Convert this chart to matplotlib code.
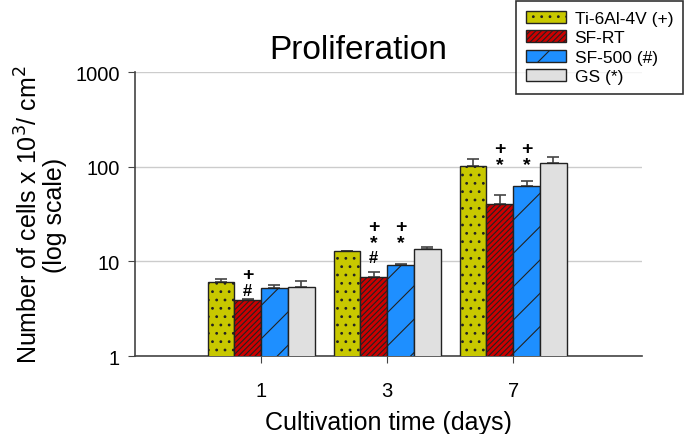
import matplotlib.pyplot as plt
import numpy as np
from matplotlib.patches import Patch

plt.rcParams['font.family'] = ['Liberation Sans', 'DejaVu Sans']
plt.rcParams['hatch.linewidth'] = 0.8

days = ["1", "3", "7"]
groups = ["Ti-6Al-4V (+)", "SF-RT", "SF-500 (#)", "GS (*)"]
ti = [6.1, 12.8, 102]
sf_rt = [3.9, 6.8, 40]
sf_500 = [5.2, 9.2, 62]
gs = [5.35, 13.6, 109]
ti_err = [0.5, 0.2, 18]
sf_rt_err = [0.1, 0.9, 10]
sf_500_err = [0.45, 0.15, 9]
gs_err = [0.9, 0.6, 18]

# significance marks: (day index, bar index, symbols top->bottom, y of top mark)
marks = [
    (0, 1, ["+", "#"], 7.35),
    (1, 1, ["+", "*", "#"], 23.6),
    (1, 2, ["+", "*"], 23.6),
    (2, 1, ["+", "*"], 157),
    (2, 2, ["+", "*"], 157),
]

colors = ["#c8c800", "#cc0000", "#1e8fff", "#e0e0e0"]
hatches = ["..", "//////", "/", ""]
values = [ti, sf_rt, sf_500, gs]
errors = [ti_err, sf_rt_err, sf_500_err, gs_err]

fig = plt.figure(figsize=(6.85, 4.35), dpi=100)
ax = fig.add_axes([0.197, 0.179, 0.740, 0.653])

x = np.arange(len(days))
w = 0.212
for i in range(4):
    pos = x + (i - 1.5) * w
    ax.bar(pos, values[i], w, color=colors[i], edgecolor="#222222",
           hatch=hatches[i], linewidth=1.0, zorder=3)
    ax.errorbar(pos, values[i], yerr=[np.zeros(3), errors[i]], fmt="none",
                ecolor="#444444", elinewidth=1.2, capsize=4, capthick=1.2, zorder=2)

for d, b, syms, ytop in marks:
    xp = x[d] + (b - 1.5) * w
    yoff = 0
    for k, s in enumerate(syms):
        if k > 0:
            yoff -= 12 if s == "#" else 10.5
        fs = 12 if s == "#" else 14
        ax.annotate(s, xy=(xp, ytop), xytext=(0, yoff - (1 if s == "*" else 0)),
                    textcoords="offset points", ha="center", va="center",
                    fontsize=fs, fontweight="bold")

ax.set_yscale("log")
ax.set_ylim(1, 1000)
ax.set_xlim(-1, 3.02)
ax.set_yticks([1, 10, 100, 1000])
ax.set_yticklabels(["1", "10", "100", "1000"])
ax.minorticks_off()
ax.set_xticks(x)
ax.set_xticklabels(days)
ax.tick_params(axis="both", labelsize=14.5, direction="out", length=5, color="#444444")
ax.tick_params(axis="x", pad=13)
ax.tick_params(axis="y", pad=6)
ax.grid(axis="y", color="#cccccc", linewidth=1, zorder=0)
ax.set_axisbelow(True)
for s in ["top", "right"]:
    ax.spines[s].set_visible(False)
for s in ["left", "bottom"]:
    ax.spines[s].set_color("#444444")
    ax.spines[s].set_linewidth(1.2)

ax.set_title("Proliferation", fontsize=24, pad=10, x=0.44)
ax.set_xlabel("Cultivation time (days)", fontsize=18, labelpad=7)
ax.set_ylabel("Number of cells x 10$^3$/ cm$^2$\n(log scale)", fontsize=18,
              labelpad=6, linespacing=1.0)

handles = [Patch(facecolor=colors[i], edgecolor="#222222", hatch=hatches[i], label=groups[i])
           for i in range(4)]
leg = fig.legend(handles=handles, loc="upper right", bbox_to_anchor=(0.999, 0.999),
                 fontsize=12.5, frameon=True, fancybox=False, handlelength=2.3,
                 handleheight=0.7, borderpad=0.55, labelspacing=0.25,
                 handletextpad=0.5, borderaxespad=0.1)
leg.get_frame().set_edgecolor("black")
leg.get_frame().set_linewidth(1.2)

fig.savefig("out.png", dpi=100)
